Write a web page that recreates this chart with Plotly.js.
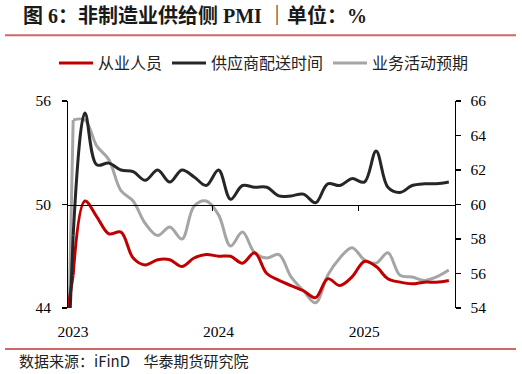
<!DOCTYPE html>
<html>
<head>
<meta charset="utf-8">
<script src="https://cdn.plot.ly/plotly-3.0.1.min.js"></script>
<style>
  html, body { margin: 0; padding: 0; background: #fff; }
  #chart { width: 522px; height: 374px; }
</style>
</head>
<body>
<div id="chart"></div>
<script>
// Months (mid-month placement); the first entry is the lead-in point just before the axis start (clipped)
const months = [
  '2022-12',
  '2023-01','2023-02','2023-03','2023-04','2023-05','2023-06','2023-07','2023-08','2023-09','2023-10','2023-11','2023-12',
  '2024-01','2024-02','2024-03','2024-04','2024-05','2024-06','2024-07','2024-08','2024-09','2024-10','2024-11','2024-12',
  '2025-01','2025-02','2025-03','2025-04','2025-05','2025-06','2025-07','2025-08'
];
// 从业人员 (left axis)
const employment = [
  41.4,
  45.9, 50.2, 49.3, 48.3, 48.4, 46.9, 46.5, 46.8, 46.8, 46.4, 46.9, 47.1,
  47.0, 47.0, 46.6, 47.2, 46.0, 45.6, 45.3, 45.0, 44.6, 45.7, 45.3, 45.8,
  46.7, 46.4, 45.7, 45.5, 45.4, 45.5, 45.5, 45.6
];
// 供应商配送时间 (left axis)
const delivery = [
  30.4,
  48.2, 55.3, 52.3, 52.4, 52.0, 51.9, 51.4, 52.0, 51.3, 52.0, 51.6, 51.1,
  52.0, 50.3, 51.1, 51.0, 51.0, 50.5, 50.5, 50.6, 50.1, 51.2, 51.1, 51.5,
  51.3, 53.1, 51.0, 50.7, 51.1, 51.2, 51.2, 51.3
];
// 业务活动预期 (right axis)
const expectation = [
  30.9,
  64.9, 64.9, 63.4, 62.6, 60.8, 60.2, 58.9, 58.2, 58.7, 58.0, 59.9, 60.2,
  59.4, 57.6, 58.4, 57.2, 56.9, 57.1, 55.8, 55.0, 54.3, 55.9, 56.9, 57.5,
  56.8, 56.6, 57.2, 55.9, 55.8, 55.6, 55.8, 56.2
];
const names = ['从业人员', '供应商配送时间', '业务活动预期'];
const colors = ['#c00000', '#262626', '#a5a5a5'];
const leftTicks = [44, 50, 56];
const rightTicks = [54, 56, 58, 60, 62, 64, 66];
const yearLabels = ['2023', '2024', '2025'];
const yearLabelPos = ['2023-01-16', '2024-01-16', '2025-01-16'];
const yearTickPos = ['2024-01-01', '2025-01-01'];
const xRange = ['2023-01-01', '2025-09-01'];

const serif = 'Times New Roman, Liberation Serif, Noto Sans CJK SC, serif';
const cjk = 'Noto Sans CJK SC, sans-serif';

function series(vals, name, color, xa, ya, rank) {
  const base = {xperiod: 'M1', xperiodalignment: 'middle', mode: 'lines',
                type: 'scatter', hoverinfo: 'skip', xaxis: xa, yaxis: ya};
  return [
    // lead-in segment from the point before the axis start
    Object.assign({}, base, {
      x: months.slice(0, 2), y: vals.slice(0, 2), showlegend: false,
      line: {color: color, width: 3, shape: 'linear'}
    }),
    Object.assign({}, base, {
      x: months.slice(1), y: vals.slice(1), name: name, legendrank: rank,
      line: {color: color, width: 3, shape: 'spline', smoothing: 1}
    })
  ];
}

const traces = [].concat(
  series(expectation, names[2], colors[2], 'x', 'y', 3),
  series(employment, names[0], colors[0], 'x2', 'y2', 1),
  series(delivery, names[1], colors[1], 'x2', 'y2', 2)
);

const tickFont = {family: serif, size: 15.5, color: '#000'};

const layout = {
  width: 522, height: 374,
  margin: {l: 67, r: 67, t: 101, b: 66, pad: 0},
  paper_bgcolor: '#fff', plot_bgcolor: '#fff',
  showlegend: true,
  title: {
    text: '<b>图 6：非制造业供给侧 PMI ｜单位：%</b>',
    font: {family: serif, size: 20, color: '#1a1a1a'},
    x: 23/522, xanchor: 'left', xref: 'container',
    y: 1 - 16/374, yanchor: 'middle', yref: 'container'
  },
  legend: {
    orientation: 'h', xref: 'paper', yref: 'paper',
    x: (54-67)/388, xanchor: 'left', y: (308-63)/207, yanchor: 'middle',
    font: {family: cjk, size: 16, color: '#222'},
    traceorder: 'normal', itemwidth: 34, bgcolor: 'rgba(0,0,0,0)'
  },
  // bottom axis: year labels only
  xaxis: {
    type: 'date', range: xRange, anchor: 'y', side: 'bottom',
    showline: false, ticks: 'outside', ticklen: 9, tickcolor: 'rgba(0,0,0,0)',
    tickvals: yearLabelPos, ticktext: yearLabels,
    tickfont: tickFont, showgrid: false, zeroline: false
  },
  // axis line crossing at 50 / 60, with year tick marks
  xaxis2: {
    type: 'date', range: xRange, overlaying: 'x', anchor: 'free', position: 0.5,
    showline: true, linecolor: '#000', linewidth: 1.3,
    ticks: 'outside', ticklen: 5, tickwidth: 1.3, tickcolor: '#000',
    tickvals: yearTickPos, showticklabels: false,
    showgrid: false, zeroline: false
  },
  yaxis: {
    range: [54, 66], side: 'right', anchor: 'x',
    tickvals: rightTicks, showline: true, linecolor: '#000', linewidth: 1.3,
    ticks: 'outside', ticklen: 5, tickwidth: 1.3, tickcolor: '#000',
    tickfont: tickFont, ticklabelstandoff: 6,
    showgrid: false, zeroline: false
  },
  yaxis2: {
    range: [44, 56], side: 'left', overlaying: 'y', anchor: 'free', position: 0,
    tickvals: leftTicks, showline: true, linecolor: '#000', linewidth: 1.3,
    ticks: 'outside', ticklen: 5, tickwidth: 1.3, tickcolor: '#000',
    tickfont: tickFont, ticklabelstandoff: 8,
    showgrid: false, zeroline: false
  },
  shapes: [
    {type: 'line', xref: 'paper', yref: 'paper',
     x0: (5-67)/388, x1: (516-67)/388, y0: (308-35.3)/207, y1: (308-35.3)/207,
     line: {color: '#d06666', width: 2}},
    {type: 'line', xref: 'paper', yref: 'paper',
     x0: (5-67)/388, x1: (516-67)/388, y0: (308-349)/207, y1: (308-349)/207,
     line: {color: '#d06666', width: 2}}
  ],
  annotations: [
    {text: '数据来源：iFinD\u00a0\u00a0\u00a0\u00a0华泰期货研究院', xref: 'paper', yref: 'paper',
     x: (17-67)/388, y: (308-360)/207, xanchor: 'left', yanchor: 'middle',
     showarrow: false, font: {family: cjk, size: 15, color: '#222'}}
  ]
};

Plotly.newPlot('chart', traces, layout, {displayModeBar: false, staticPlot: true});
</script>
</body>
</html>
